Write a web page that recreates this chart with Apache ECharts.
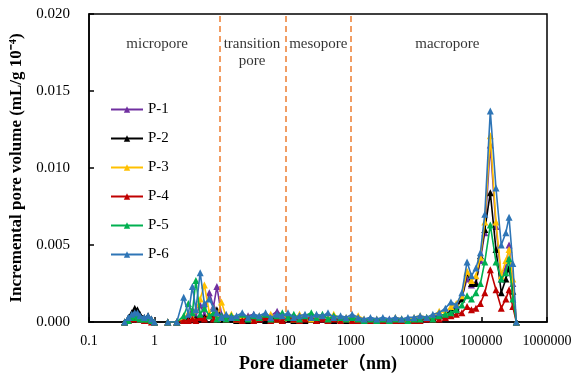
<!DOCTYPE html>
<html>
<head>
<meta charset="utf-8">
<script src="https://cdn.jsdelivr.net/npm/echarts@6/dist/echarts.min.js"></script>
<style>
  html, body { margin: 0; padding: 0; background: #fff; }
  #chart { width: 583px; height: 378px; }
</style>
</head>
<body>
<div id="chart"></div>
<script>
// pore diameters (nm); null entry breaks the line between the two data segments
const diam = [
  0.35, 0.4, 0.45, 0.5, 0.55, 0.6, 0.7, 0.8, 0.9, 1.0,
  1.2,
  1.6, 2.2, 2.8, 3.3, 3.8, 4.3, 5.0, 5.8, 6.9, 8.0, 9.0, 10.6, 12.5, 15,
  18, 22, 27, 33, 40, 50, 60, 75, 90, 110, 135, 165, 200, 250, 300, 370, 450, 550, 700, 850,
  1050, 1300, 1600, 2000, 2500, 3100, 3900, 4800, 6000, 7500, 9300, 11500, 14500, 18000, 22500, 28000, 34000, 41000,
  50000, 60000, 70000, 82000, 96000, 112000, 136000, 166000, 200000, 235000, 263000, 300000, 340000
]

const p1 = [
  0, 0.0002, 0.0003, 0.0004, 0.0003, 0.0002, 0.0002, 0.0003, 0.0001, 0,
  null,
  0, 0, 0.0001, 0.0003, 0.0008, 0.0004, 0.0011, 0.0005, 0.0019, 0.0010, 0.0023, 0.0005, 0.0003, 0.0004,
  0.0003, 0.0002, 0.0004, 0.0005, 0.0003, 0.0002, 0.0004, 0.0007, 0.0004, 0.0002, 0.0003, 0.0001, 0.0003, 0.0002, 0.0004, 0.0002, 0.0003, 0.0001, 0.0003, 0.0002,
  0.0001, 0.0002, 0.0001, 0.0002, 0.0001, 0.0001, 0.0002, 0.0001, 0.0002, 0.0001, 0.0002, 0.0003, 0.0002, 0.0003, 0.0005, 0.0004, 0.0008, 0.0010,
  0.0016, 0.0028, 0.0024, 0.0026, 0.0040, 0.0058, 0.0115, 0.0062, 0.0028, 0.0035, 0.0050, 0.0025, 0
]
const p2 = [
  0, 0.0003, 0.0006, 0.0009, 0.0008, 0.0005, 0.0003, 0.0004, 0.0002, 0,
  null,
  0, 0, 0.0001, 0.0002, 0.0003, 0.0002, 0.0004, 0.0003, 0.0005, 0.0003, 0.0008, 0.0002, 0.0004, 0.0002,
  0.0001, 0.0002, 0.0001, 0.0003, 0.0002, 0.0001, 0.0002, 0.0003, 0.0001, 0.0002, 0.0001, 0.0002, 0.0001, 0.0002, 0.0001, 0.0002, 0.0001, 0.0001, 0.0002, 0.0001,
  0.0001, 0.0001, 0.0001, 0.0001, 0.0001, 0.0001, 0.0001, 0.0001, 0.0001, 0.0002, 0.0001, 0.0002, 0.0002, 0.0003, 0.0004, 0.0005, 0.0007, 0.0009,
  0.0015, 0.0032, 0.0025, 0.0025, 0.0043, 0.0060, 0.0084, 0.0047, 0.0019, 0.0028, 0.0035, 0.0020, 0
]
const p3 = [
  0, 0.0002, 0.0003, 0.0004, 0.0004, 0.0003, 0.0002, 0.0002, 0.0001, 0,
  null,
  0, 0, 0.0002, 0.0006, 0.0003, 0.0008, 0.0015, 0.0024, 0.0006, 0.0009, 0.0003, 0.0013, 0.0003, 0.0005,
  0.0002, 0.0004, 0.0003, 0.0002, 0.0004, 0.0003, 0.0005, 0.0002, 0.0003, 0.0004, 0.0002, 0.0005, 0.0003, 0.0002, 0.0004, 0.0003, 0.0002, 0.0005, 0.0002, 0.0003,
  0.0002, 0.0004, 0.0002, 0.0001, 0.0002, 0.0002, 0.0001, 0.0003, 0.0002, 0.0002, 0.0003, 0.0004, 0.0003, 0.0004, 0.0007, 0.0006, 0.0010, 0.0012,
  0.0017, 0.0033, 0.0027, 0.0030, 0.0042, 0.0065, 0.0121, 0.0065, 0.0030, 0.0040, 0.0047, 0.0028, 0
]
const p4 = [
  0, 0.0001, 0.0002, 0.0003, 0.0002, 0.0002, 0.0001, 0.0001, 0, 0,
  null,
  0, 0, 0.0001, 0.0001, 0.0002, 0.0001, 0.0003, 0.0002, 0.0004, 0.0002, 0.0006, 0.0003, 0.0002, 0.0003,
  0.0002, 0.0001, 0.0003, 0.0001, 0.0002, 0.0003, 0.0001, 0.0002, 0.0001, 0.0003, 0.0002, 0.0001, 0.0002, 0.0003, 0.0001, 0.0002, 0.0001, 0.0002, 0.0001, 0.0002,
  0.0001, 0.0001, 0.0001, 0.0001, 0.0001, 0.0001, 0.0001, 0.0001, 0.0001, 0.0001, 0.0001, 0.0001, 0.0002, 0.0002, 0.0002, 0.0003, 0.0004, 0.0005,
  0.0006, 0.0010, 0.0008, 0.0009, 0.0012, 0.0019, 0.0034, 0.0021, 0.0009, 0.0015, 0.0021, 0.0010, 0
]
const p5 = [
  0, 0.0001, 0.0003, 0.0004, 0.0003, 0.0002, 0.0002, 0.0002, 0.0001, 0,
  null,
  0, 0, 0.0004, 0.0012, 0.0006, 0.0027, 0.0005, 0.0009, 0.0004, 0.0006, 0.0002, 0.0004, 0.0002, 0.0004,
  0.0003, 0.0005, 0.0002, 0.0004, 0.0003, 0.0005, 0.0002, 0.0004, 0.0006, 0.0003, 0.0005, 0.0002, 0.0004, 0.0006, 0.0003, 0.0005, 0.0002, 0.0004, 0.0003, 0.0002,
  0.0003, 0.0002, 0.0001, 0.0002, 0.0001, 0.0002, 0.0001, 0.0002, 0.0002, 0.0001, 0.0002, 0.0002, 0.0003, 0.0002, 0.0004, 0.0005, 0.0006, 0.0008,
  0.0011, 0.0017, 0.0015, 0.0019, 0.0025, 0.0039, 0.0063, 0.0039, 0.0028, 0.0032, 0.0041, 0.0015, 0
]
const p6 = [
  0, 0.0003, 0.0005, 0.0006, 0.0006, 0.0004, 0.0003, 0.0004, 0.0002, 0,
  null,
  0, 0, 0.0016, 0.0005, 0.0023, 0.0008, 0.0032, 0.0012, 0.0015, 0.0009, 0.0006, 0.0003, 0.0005, 0.0003,
  0.0004, 0.0006, 0.0003, 0.0005, 0.0004, 0.0006, 0.0003, 0.0005, 0.0004, 0.0006, 0.0003, 0.0004, 0.0005, 0.0003, 0.0005, 0.0004, 0.0006, 0.0003, 0.0004, 0.0003,
  0.0005, 0.0003, 0.0002, 0.0003, 0.0002, 0.0003, 0.0002, 0.0003, 0.0002, 0.0003, 0.0003, 0.0004, 0.0003, 0.0005, 0.0006, 0.0009, 0.0013, 0.0011,
  0.0019, 0.0039, 0.0030, 0.0035, 0.0045, 0.0070, 0.0137, 0.0087, 0.0050, 0.0058, 0.0068, 0.0038, 0
]

const names = ['P-1', 'P-2', 'P-3', 'P-4', 'P-5', 'P-6']
const colors = ['#7030A0', '#000000', '#FFC000', '#C00000', '#00B050', '#2E75B6']
const values = [p1, p2, p3, p4, p5, p6]

// pore-class boundaries and region captions
const boundaries = [10, 100, 1000]
const regionLabels = ['micropore', 'transition\npore', 'mesopore', 'macropore']
const regionX = [1.1, 31, 320, 30000]
const regionY = 0.0186

const font = '"Liberation Serif", "Times New Roman", "Noto Sans CJK SC", serif'

const chart = echarts.init(document.getElementById('chart'), null, { renderer: 'canvas' })

const series = names.map((name, k) => ({
  name,
  type: 'line',
  data: diam.map((d, i) => [d, values[k][i] == null ? '-' : values[k][i]]),
  symbol: 'triangle',
  symbolSize: 7,
  showSymbol: true,
  lineStyle: { width: 1.6, color: colors[k] },
  itemStyle: { color: colors[k] },
  animation: false,
  z: 2 + k
}))

series[0].markLine = {
  silent: true,
  symbol: 'none',
  label: { show: false },
  lineStyle: { color: '#ED7D31', type: [6, 4], width: 1.5 },
  data: boundaries.map(b => ({ xAxis: b }))
}

series.push({
  name: 'regions',
  type: 'scatter',
  symbolSize: 0,
  silent: true,
  data: regionX.map((x, i) => ({ value: [x, regionY], label: { formatter: regionLabels[i] } })),
  label: {
    show: true,
    position: 'inside',
    color: '#000',
    fontFamily: font,
    fontSize: 15,
    lineHeight: 17,
    verticalAlign: 'top'
  },
  z: 1
})

chart.setOption({
  backgroundColor: '#fff',
  animation: false,
  textStyle: { fontFamily: font },
  grid: { left: 89, right: 36, top: 14, bottom: 55, show: true, borderColor: '#000', borderWidth: 1.5 },
  legend: {
    data: names,
    orient: 'vertical',
    left: 105,
    top: 97,
    itemWidth: 32,
    itemHeight: 8,
    itemGap: 14,
    textStyle: { fontFamily: font, fontSize: 15, color: '#000' }
  },
  xAxis: {
    type: 'log',
    logBase: 10,
    min: 0.1,
    max: 1000000,
    name: 'Pore diameter（nm)',
    nameLocation: 'middle',
    nameGap: 33,
    nameTextStyle: { fontFamily: font, fontSize: 18, fontWeight: 'bold', color: '#000' },
    axisLine: { lineStyle: { color: '#000', width: 1.5 } },
    axisTick: { inside: true, length: 5, lineStyle: { color: '#000', width: 1.5 } },
    minorTick: { show: false },
    axisLabel: {
      color: '#000',
      fontSize: 14,
      margin: 12,
      formatter: v => (v < 1 ? v.toFixed(1) : String(Math.round(v)))
    },
    splitLine: { show: false }
  },
  yAxis: {
    type: 'value',
    min: 0,
    max: 0.02,
    interval: 0.005,
    name: 'Incremental pore volume (mL/g 10⁻⁴)',
    nameLocation: 'middle',
    nameGap: 57,
    nameTextStyle: { fontFamily: font, fontSize: 17, fontWeight: 'bold', color: '#000' },
    axisLine: { show: true, lineStyle: { color: '#000', width: 1.5 } },
    axisTick: { show: true, inside: true, length: 5, lineStyle: { color: '#000', width: 1.5 } },
    axisLabel: { color: '#000', fontSize: 15, margin: 19, formatter: v => v.toFixed(3) },
    splitLine: { show: false }
  },
  series
})
</script>
</body>
</html>
